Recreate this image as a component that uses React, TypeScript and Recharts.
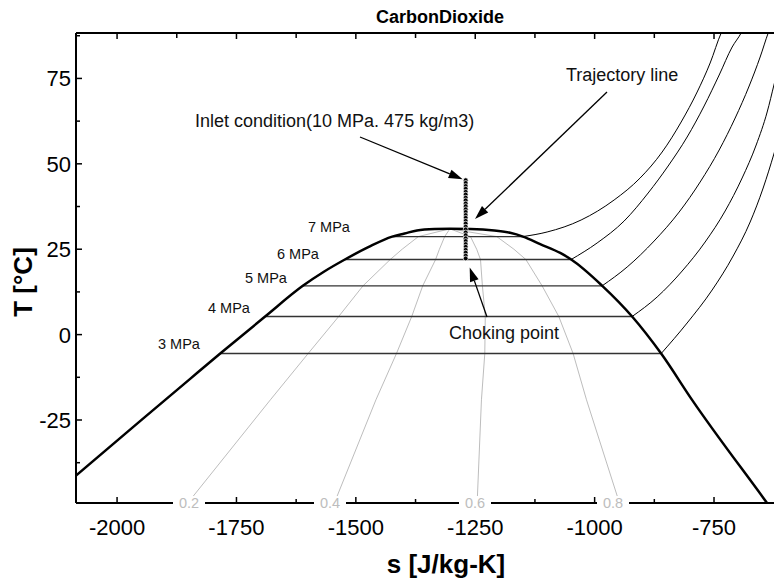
import { ComposedChart, Line, XAxis, YAxis } from 'recharts';

const WIDTH = 774;
const HEIGHT = 581;
const FONT = "'Liberation Sans', Arial, Helvetica, sans-serif";

// plot box in px (left axis, top frame, clipped right edge, bottom axis)
const PLOT_LEFT = 76;
const PLOT_TOP = 33;
const PLOT_RIGHT = 774;
const PLOT_BOTTOM = 503;

// entropy s [J/kg-K] and temperature T [°C] ranges
const S_MIN = -2086;
const S_MAX = -624.4;
const T_MIN = -49.3;
const T_MAX = 88.3;

const sTicks = [-2000, -1875, -1750, -1625, -1500, -1375, -1250, -1125, -1000, -875, -750];
const tTicks = [-37.5, -25, -12.5, 0, 12.5, 25, 37.5, 50, 62.5, 75, 87.5];

// saturation dome (liquid side -> critical point -> vapour side)
const domeS = [-2120, -2086, -1950, -1847, -1784, -1690, -1611, -1567, -1523, -1474, -1424, -1398, -1372, -1335, -1303, -1260, -1210, -1177, -1150, -1114, -1072, -1049, -984, -921.5, -860.7, -796, -639, -625];
const domeT = [-45.4, -41.3, -25.1, -12.95, -5.55, 5.3, 14.28, 18.4, 21.98, 25.6, 28.7, 29.6, 30.5, 30.9, 30.98, 30.9, 30.45, 29.8, 28.7, 26.5, 23.9, 21.98, 14.28, 5.3, -5.55, -19.1, -49.3, -52.0];

// isobars: saturation temperature, liquid and vapour entropy
const pressureLabels = ['3 MPa', '4 MPa', '5 MPa', '6 MPa', '7 MPa'];
const satT = [-5.55, 5.3, 14.28, 21.98, 28.7];
const satLiquidS = [-1784, -1690, -1611, -1523, -1424];
const satVaporS = [-860.7, -921.5, -984.3, -1049.2, -1150];

// superheated part of each isobar
const vapor3S = [-860.7, -806.3, -753.9, -709.9, -674.3, -647.1, -624.0, -607.3];
const vapor3T = [-5.55, 3.4, 13.06, 23.01, 32.97, 42.92, 53.17, 61.36];
const vapor4S = [-921.5, -869.1, -816.7, -768.6, -726.7, -691.1, -661.7, -638.7, -624.0, -611.5];
const vapor4T = [5.3, 11.01, 18.62, 27.11, 36.19, 45.85, 55.51, 65.17, 73.37, 80.4];
const vapor5S = [-984.3, -931.9, -875.4, -823.0, -779.0, -739.2, -705.7, -676.4, -653.4, -636.6, -630.3];
const vapor5T = [14.28, 19.79, 27.4, 35.89, 44.68, 54.05, 63.41, 72.78, 81.27, 88.3, 90.64];
const vapor6S = [-1049.2, -994.8, -938.2, -887.9, -846.1, -806.3, -770.7, -739.2, -712.0, -693.2, -684.8];
const vapor6T = [21.98, 26.82, 33.26, 41.46, 49.36, 57.85, 66.93, 76.0, 84.2, 88.3, 90.64];
const vapor7S = [-1150, -1099.5, -1028.3, -959.2, -904.7, -858.6, -818.8, -785.3, -758.1, -735.0, -726.7];
const vapor7T = [28.7, 30.04, 33.55, 39.41, 45.85, 53.46, 62.24, 71.03, 79.52, 88.3, 90.64];

// constant-quality lines
const qualityLabels = ['0.2', '0.4', '0.6', '0.8'];
const qualityT = [-49.3, -19.1, -5.55, 5.3, 14.28, 21.98, 25, 28.7, 30.98];
const quality02S = [-1852, -1679, -1600, -1536, -1485, -1428, -1403, -1369, -1303];
const quality04S = [-1545, -1458, -1415, -1383, -1360, -1333, -1325, -1314, -1303];
const quality06S = [-1246, -1237, -1230, -1229, -1235, -1239, -1247, -1260, -1303];
const quality08S = [-948, -1017, -1045, -1075, -1110, -1144, -1169, -1205, -1303];

// expansion from the inlet state down to the choking point
const trajectoryS = -1270;
const trajectoryT = [45.2, 44.4, 43.5, 42.7, 41.8, 41.0, 40.1, 39.3, 38.4, 37.6, 36.7, 35.9, 35.0, 34.2, 33.3, 32.5, 31.6, 30.8, 29.9, 29.1, 28.2, 27.4, 26.5, 25.7, 24.8, 24.0, 23.1, 22.3];

const pts = (s: number[], t: number[]) => s.map((v, i) => ({ s: v, T: t[i] }));

const dome = pts(domeS, domeT);
const tieLines = satT.map((t, i) => [{ s: satLiquidS[i], T: t }, { s: satVaporS[i], T: t }]);
const vaporLines = [
  pts(vapor3S, vapor3T),
  pts(vapor4S, vapor4T),
  pts(vapor5S, vapor5T),
  pts(vapor6S, vapor6T),
  pts(vapor7S, vapor7T),
];
const qualityLines = [quality02S, quality04S, quality06S, quality08S].map((s) => pts(s, qualityT));
const trajectory = trajectoryT.map((t) => ({ s: trajectoryS, T: t }));

// data -> px, for the annotation layer
const sx = (s: number) => PLOT_LEFT + ((s - S_MIN) / (S_MAX - S_MIN)) * (PLOT_RIGHT - PLOT_LEFT);
const ty = (t: number) => PLOT_TOP + ((T_MAX - t) / (T_MAX - T_MIN)) * (PLOT_BOTTOM - PLOT_TOP);

const BottomTick = (props: any) => {
  const { x, y, payload } = props;
  const major = payload.value % 250 === 0;
  return (
    <g>
      <line x1={x} x2={x} y1={y} y2={y - (major ? 6 : 4)} stroke="#000" strokeWidth={1.5} />
      {major && (
        <text x={x} y={y + 32} textAnchor="middle" fontSize={22} fontFamily={FONT} fill="#000">
          {payload.value}
        </text>
      )}
    </g>
  );
};

const TopTick = (props: any) => {
  const { x, y, payload } = props;
  const major = payload.value % 250 === 0;
  return <line x1={x} x2={x} y1={y} y2={y + (major ? 6 : 5)} stroke="#000" strokeWidth={1.5} />;
};

const LeftTick = (props: any) => {
  const { x, y, payload } = props;
  const major = payload.value % 25 === 0;
  return (
    <g>
      <line x1={x} x2={x + (major ? 6 : 4)} y1={y} y2={y} stroke="#000" strokeWidth={1.5} />
      {major && (
        <text x={x - 5} y={y + 8} textAnchor="end" fontSize={22} fontFamily={FONT} fill="#000">
          {payload.value}
        </text>
      )}
    </g>
  );
};

const Arrow = ({ x1, y1, x2, y2 }: { x1: number; y1: number; x2: number; y2: number }) => {
  const dx = x2 - x1;
  const dy = y2 - y1;
  const len = Math.hypot(dx, dy);
  const ux = dx / len;
  const uy = dy / len;
  const hl = 14;
  const hw = 4.5;
  const bx = x2 - ux * hl;
  const by = y2 - uy * hl;
  const head = `${x2},${y2} ${bx - uy * hw},${by + ux * hw} ${bx + uy * hw},${by - ux * hw}`;
  return (
    <g>
      <line x1={x1} y1={y1} x2={bx} y2={by} stroke="#000" strokeWidth={1.3} />
      <polygon points={head} fill="#000" />
    </g>
  );
};

// label spots for the isobars (left of the dome) and quality lines (on the s axis)
const pressureLabelPos = [
  [158, 349],
  [208, 313],
  [245, 283],
  [277, 259],
  [308, 232],
];
const qualityLabelX = [189, 330, 475, 613];

export default function App() {
  return (
    <div style={{ position: 'absolute', left: 0, top: 0, width: WIDTH, height: HEIGHT, background: '#fff' }}>
      <ComposedChart width={WIDTH} height={HEIGHT} margin={{ top: 0, right: 0, bottom: 0, left: 0 }}>
        <XAxis
          xAxisId="s"
          dataKey="s"
          type="number"
          domain={[S_MIN, S_MAX]}
          ticks={sTicks}
          allowDataOverflow
          height={HEIGHT - PLOT_BOTTOM}
          tickSize={0}
          tickMargin={0}
          tickLine={false}
          axisLine={{ stroke: '#000', strokeWidth: 2 }}
          tick={BottomTick}
          interval={0}
        />
        <XAxis
          xAxisId="top"
          orientation="top"
          dataKey="s"
          type="number"
          domain={[S_MIN, S_MAX]}
          ticks={sTicks}
          allowDataOverflow
          height={PLOT_TOP}
          tickSize={0}
          tickMargin={0}
          tickLine={false}
          axisLine={{ stroke: '#000', strokeWidth: 2 }}
          tick={TopTick}
          interval={0}
        />
        <YAxis
          dataKey="T"
          type="number"
          domain={[T_MIN, T_MAX]}
          ticks={tTicks}
          allowDataOverflow
          width={PLOT_LEFT}
          tickSize={0}
          tickMargin={0}
          tickLine={false}
          axisLine={{ stroke: '#000', strokeWidth: 2 }}
          tick={LeftTick}
          interval={0}
        />

        {qualityLines.map((d, i) => (
          <Line key={`q${i}`} xAxisId="s" data={d} dataKey="T" type="linear" stroke="#bdbdbd" strokeWidth={1} dot={false} activeDot={false} isAnimationActive={false} />
        ))}
        {tieLines.map((d, i) => (
          <Line key={`tie${i}`} xAxisId="s" data={d} dataKey="T" type="linear" stroke="#333" strokeWidth={1.4} dot={false} activeDot={false} isAnimationActive={false} />
        ))}
        {vaporLines.map((d, i) => (
          <Line key={`v${i}`} xAxisId="s" data={d} dataKey="T" type="monotone" stroke="#000" strokeWidth={1} dot={false} activeDot={false} isAnimationActive={false} />
        ))}
        <Line xAxisId="s" data={dome} dataKey="T" type="monotone" stroke="#000" strokeWidth={2.5} dot={false} activeDot={false} isAnimationActive={false} />
        <Line
          xAxisId="s"
          data={trajectory}
          dataKey="T"
          stroke="none"
          dot={{ r: 2.4, fill: '#000', stroke: '#fff', strokeWidth: 0.7 }}
          activeDot={false}
          isAnimationActive={false}
        />
      </ComposedChart>

      <svg width={WIDTH} height={HEIGHT} style={{ position: 'absolute', left: 0, top: 0 }} fontFamily={FONT}>
        <text x={440} y={23} textAnchor="middle" fontWeight="bold" fontSize={18}>CarbonDioxide</text>
        <text x={446} y={573} textAnchor="middle" fontWeight="bold" fontSize={26}>s [J/kg-K]</text>
        <text transform="translate(32,282) rotate(-90)" textAnchor="middle" fontWeight="bold" fontSize={26}>T [°C]</text>

        {qualityLabels.map((q, i) => (
          <g key={q}>
            <rect x={qualityLabelX[i] - 16} y={PLOT_BOTTOM - 7} width={32} height={14} fill="#fff" />
            <text x={qualityLabelX[i]} y={PLOT_BOTTOM + 5} textAnchor="middle" fontSize={14.5} fill="#bdbdbd">{q}</text>
          </g>
        ))}

        {pressureLabels.map((p, i) => (
          <text key={p} x={pressureLabelPos[i][0]} y={pressureLabelPos[i][1]} fontSize={14.5} fill="#111">{p}</text>
        ))}

        <text x={195} y={127} fontSize={18} fill="#111">Inlet condition(10 MPa. 475 kg/m3)</text>
        <Arrow x1={360} y1={137} x2={sx(trajectoryS) - 3} y2={ty(trajectoryT[0]) - 1} />

        <text x={566} y={81} fontSize={18} fill="#111">Trajectory line</text>
        <Arrow x1={607} y1={92} x2={475} y2={219} />

        <text x={449} y={339} fontSize={18} fill="#111">Choking point</text>
        <Arrow x1={487} y1={317} x2={sx(trajectoryS) + 4} y2={ty(trajectoryT[trajectoryT.length - 1]) + 9} />
      </svg>
    </div>
  );
}
